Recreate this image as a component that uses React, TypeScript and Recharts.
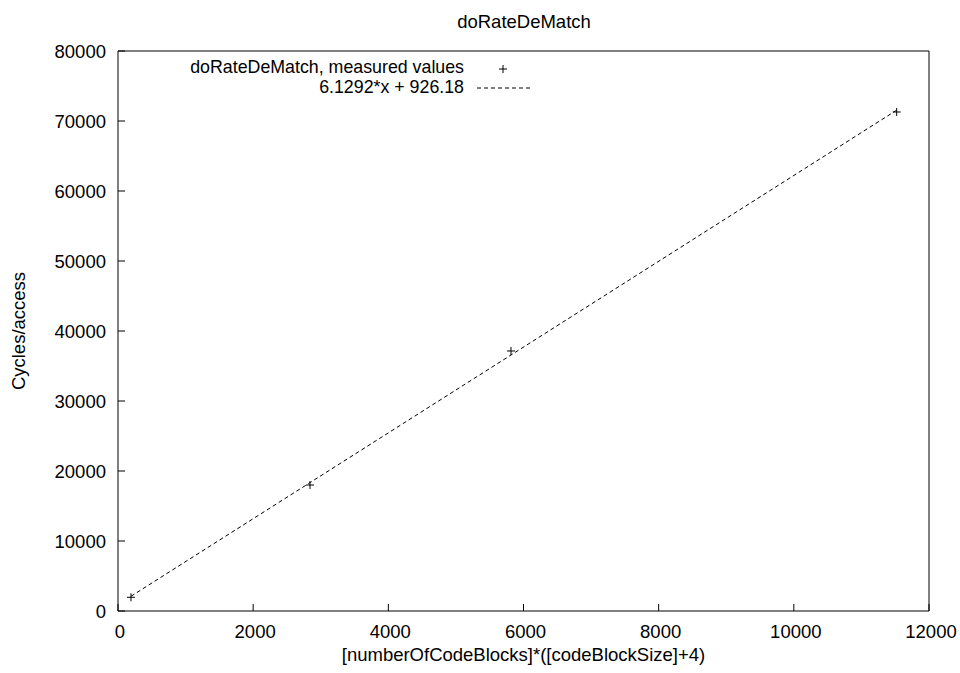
import React from 'react'
import {
  ComposedChart,
  Scatter,
  Line,
  XAxis,
  YAxis,
  Label,
} from 'recharts'

const xTicks = [0, 2000, 4000, 6000, 8000, 10000, 12000]
const yTicks = [0, 10000, 20000, 30000, 40000, 50000, 60000, 70000, 80000]

const measuredX = [192, 2841, 5815, 11522]
const measuredY = [1960, 18000, 37143, 71286]

// ends of the fitted line 6.1292*x + 926.18
const fitX = [192, 11522]
const fitY = [2103, 71548]

const measured = measuredX.map((x, i) => ({ x, y: measuredY[i] }))
const fit = fitX.map((x, i) => ({ x, y: fitY[i] }))

const FONT = '"Liberation Sans", Arial, Helvetica, sans-serif'
const FS = 18.5
const tickStyle = { fill: '#000', fontSize: FS, fontFamily: FONT }

const Plus = (props: any) => {
  const { cx, cy } = props
  if (cx == null || cy == null) return null
  return (
    <g stroke="#000" strokeWidth={1}>
      <line x1={cx - 4} y1={cy} x2={cx + 4} y2={cy} />
      <line x1={cx} y1={cy - 4} x2={cx} y2={cy + 4} />
    </g>
  )
}

export default function App() {
  return (
    <div style={{ position: 'absolute', left: 0, top: 0, width: 960, height: 673, background: '#fff' }}>
      <ComposedChart
        width={960}
        height={673}
        margin={{ top: 51, right: 31, bottom: 12, left: 0 }}
      >
        <XAxis
          xAxisId="bottom"
          dataKey="x"
          type="number"
          domain={[0, 12000]}
          ticks={xTicks}
          allowDataOverflow
          height={50}
          stroke="#000"
          tickSize={-7}
          tickMargin={21}
          tick={{ ...tickStyle, dx: 2 }}
        >
          <Label
            value="[numberOfCodeBlocks]*([codeBlockSize]+4)"
            position="insideBottom"
            offset={0}
            style={{ fill: '#000', fontSize: FS, fontFamily: FONT }}
          />
        </XAxis>
        <XAxis
          xAxisId="top"
          orientation="top"
          dataKey="x"
          type="number"
          domain={[0, 12000]}
          ticks={xTicks}
          allowDataOverflow
          mirror
          stroke="#000"
          tickSize={7}
          tick={false}
        />
        <YAxis
          yAxisId="left"
          type="number"
          domain={[0, 80000]}
          ticks={yTicks}
          allowDataOverflow
          width={118}
          stroke="#000"
          tickSize={-7}
          tickMargin={19}
          tick={tickStyle}
        >
          <Label
            value="Cycles/access"
            angle={-90}
            position="insideLeft"
            offset={18}
            style={{ fill: '#000', fontSize: FS, fontFamily: FONT, textAnchor: 'middle' }}
          />
        </YAxis>
        <YAxis
          yAxisId="right"
          orientation="right"
          type="number"
          domain={[0, 80000]}
          ticks={yTicks}
          allowDataOverflow
          mirror
          stroke="#000"
          tickSize={7}
          tick={false}
        />
        <Line
          xAxisId="top"
          yAxisId="right"
          data={fit}
          dataKey="y"
          type="linear"
          stroke="#000"
          strokeWidth={1}
          strokeDasharray="4 3"
          dot={false}
          activeDot={false}
          isAnimationActive={false}
        />
        <Scatter
          xAxisId="bottom"
          yAxisId="left"
          data={measured}
          dataKey="y"
          shape={<Plus />}
          isAnimationActive={false}
        />
      </ComposedChart>
      <svg
        width={960}
        height={673}
        style={{ position: 'absolute', left: 0, top: 0, pointerEvents: 'none' }}
        fontFamily={FONT}
        fontSize={FS}
      >
        <text x={524} y={28} textAnchor="middle" fill="#000">doRateDeMatch</text>
        <g fontSize={17.8}>
          <text x={464} y={73} textAnchor="end" fill="#000">doRateDeMatch, measured values</text>
          <text x={464} y={93} textAnchor="end" fill="#000">6.1292*x + 926.18</text>
        </g>
        <g stroke="#000" strokeWidth={1}>
          <line x1={499} y1={69} x2={507} y2={69} />
          <line x1={503} y1={65} x2={503} y2={73} />
        </g>
        <line x1={477} y1={88} x2={530} y2={88} stroke="#000" strokeWidth={1} strokeDasharray="4 3" />
      </svg>
    </div>
  )
}
